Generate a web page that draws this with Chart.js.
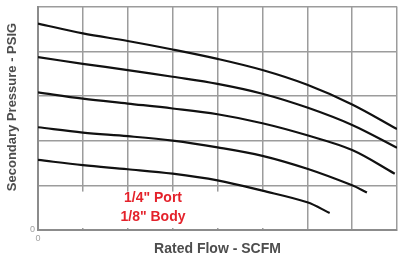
<!DOCTYPE html>
<html>
<head>
<meta charset="utf-8">
<script src="https://cdn.jsdelivr.net/npm/chart.js@4.4.1/dist/chart.umd.min.js"></script>
<style>
  html, body { margin: 0; padding: 0; background: #fff; overflow: hidden; }
</style>
</head>
<body>
<canvas id="flowChart" width="402" height="263"></canvas>
<script>
// flow (SCFM grid units) and secondary pressure (PSIG grid units) for each curve
const flow1 = [0, 1, 2, 3, 4, 5, 6, 7, 8];
const pressure1 = [4.62, 4.40, 4.23, 4.04, 3.83, 3.58, 3.25, 2.81, 2.26];

const flow2 = [0, 1, 2, 3, 4, 5, 6, 7, 8];
const pressure2 = [3.87, 3.72, 3.58, 3.43, 3.27, 3.05, 2.74, 2.35, 1.84];

const flow3 = [0, 1, 2, 3, 4, 5, 6, 7, 7.95];
const pressure3 = [3.08, 2.94, 2.83, 2.72, 2.59, 2.39, 2.12, 1.79, 1.26];

const flow4 = [0, 1, 2, 3, 4, 5, 6, 7, 7.33];
const pressure4 = [2.30, 2.18, 2.10, 2.00, 1.85, 1.66, 1.37, 1.0, 0.84];

const flow5 = [0, 1, 2, 3, 4, 5, 6, 6.5];
const pressure5 = [1.57, 1.45, 1.36, 1.26, 1.11, 0.88, 0.62, 0.38];

const flowTicks = [0, 1, 2, 3, 4, 5, 6, 7, 8];
const pressureTicks = [0, 1, 2, 3, 4, 5];
const noteLines = ['1/4" Port', '1/8" Body'];

const toPoints = (xs, ys) => xs.map((x, i) => ({ x: x, y: ys[i] }));

const curve = (xs, ys) => ({
  data: toPoints(xs, ys),
  showLine: true,
  borderColor: '#111',
  borderWidth: 2.2,
  pointRadius: 0,
  tension: 0.35
});

const FONT = '"Liberation Sans", Arial, sans-serif';

// white patch behind the note, red note text, rotated y title
const notePlugin = {
  id: 'note',
  beforeDatasetsDraw(chart) {
    const { ctx, chartArea, scales } = chart;
    const right = scales.x.getPixelForValue(5.9);
    const top = scales.y.getPixelForValue(0.86);
    ctx.save();
    ctx.fillStyle = '#fff';
    ctx.fillRect(chartArea.left + 1, top, right - chartArea.left - 1, chartArea.bottom - 2 - top);
    ctx.restore();
  },
  afterDraw(chart) {
    const { ctx } = chart;
    ctx.save();
    ctx.fillStyle = '#e4222b';
    ctx.font = 'bold 14px ' + FONT;
    ctx.textAlign = 'center';
    ctx.textBaseline = 'middle';
    ctx.fillText(noteLines[0], 153, 198);
    ctx.fillText(noteLines[1], 153, 217);

    ctx.translate(12, 107);
    ctx.rotate(-Math.PI / 2);
    ctx.fillStyle = '#4d4d4d';
    ctx.font = 'bold 13px ' + FONT;
    ctx.fillText('Secondary Pressure - PSIG', 0, 0);
    ctx.restore();
  }
};

new Chart(document.getElementById('flowChart'), {
  type: 'scatter',
  data: {
    datasets: [
      curve(flow1, pressure1),
      curve(flow2, pressure2),
      curve(flow3, pressure3),
      curve(flow4, pressure4),
      curve(flow5, pressure5)
    ]
  },
  options: {
    responsive: false,
    animation: false,
    devicePixelRatio: 1,
    layout: { padding: { top: 4, right: 0, left: 0, bottom: 0 } },
    plugins: {
      legend: { display: false },
      tooltip: { enabled: false }
    },
    scales: {
      x: {
        type: 'linear',
        min: flowTicks[0],
        max: flowTicks[flowTicks.length - 1],
        afterBuildTicks: (scale) => { scale.ticks = flowTicks.map(v => ({ value: v })); },
        afterFit: (scale) => { scale.height = 33; },
        ticks: {
          padding: 5,
          color: '#a0a0a0',
          font: { size: 9, family: FONT, lineHeight: 0.8 },
          maxRotation: 0,
          autoSkip: false,
          callback: (v) => (v === 0 ? '0' : '')
        },
        grid: { color: '#9c9c9c', lineWidth: 1.5, drawTicks: false },
        border: { color: '#8c8c8c', width: 2 },
        title: {
          display: true,
          text: 'Rated Flow - SCFM',
          color: '#4d4d4d',
          font: { size: 14, weight: 'bold', family: FONT },
          padding: { top: 0, bottom: 5 }
        }
      },
      y: {
        min: pressureTicks[0],
        max: pressureTicks[pressureTicks.length - 1],
        afterBuildTicks: (scale) => { scale.ticks = pressureTicks.map(v => ({ value: v })); },
        afterFit: (scale) => { scale.width = 38; },
        ticks: {
          padding: 3,
          color: '#a0a0a0',
          font: { size: 9, family: FONT, lineHeight: 0.8 },
          autoSkip: false,
          callback: (v) => (v === 0 ? '0' : '')
        },
        grid: { color: '#9c9c9c', lineWidth: 1.5, drawTicks: false },
        border: { color: '#8c8c8c', width: 2 }
      }
    }
  },
  plugins: [notePlugin]
});
</script>
</body>
</html>
